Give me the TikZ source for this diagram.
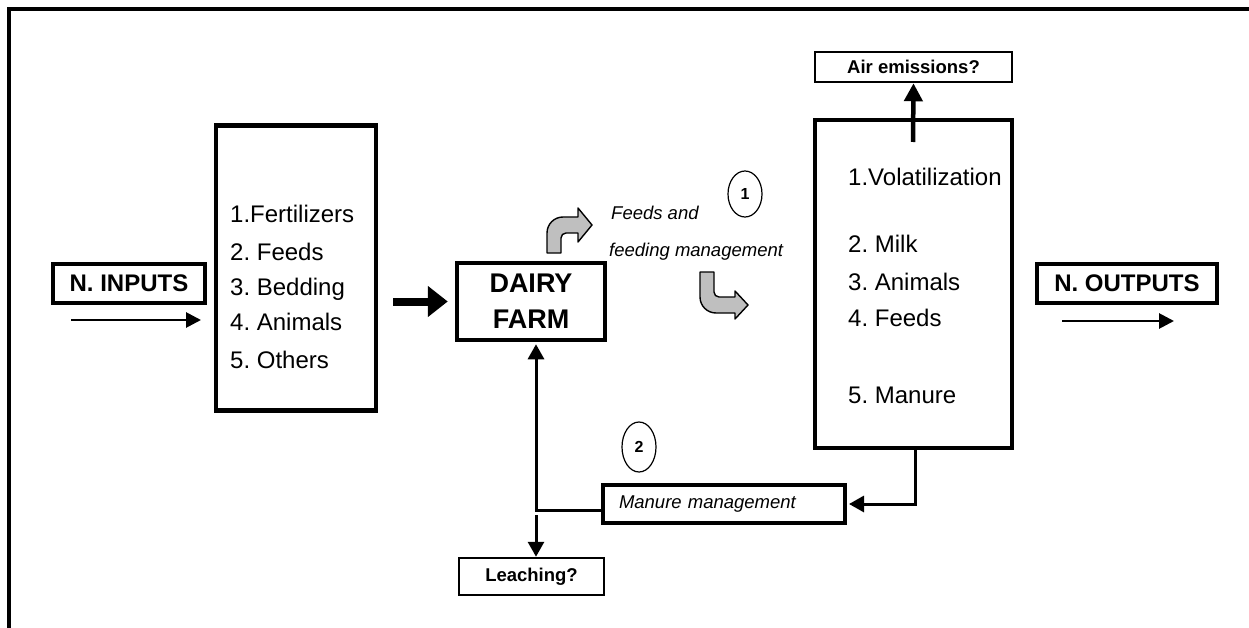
\documentclass[tikz,border=0pt]{standalone}
\usepackage{fontspec}
\setmainfont{Liberation Sans}
\usetikzlibrary{arrows.meta, positioning, shapes.geometric}
\frenchspacing

\begin{document}
\begin{tikzpicture}[x=1pt, y=-1pt,
    heavybox/.style={draw, line width=4.5pt, inner sep=0pt},
    lightbox/.style={draw, line width=2.5pt, inner sep=0pt},
    item/.style={anchor=base west, inner sep=0pt, font=\fontsize{24}{28}\selectfont},
    note/.style={font=\fontsize{18.5}{22}\selectfont\itshape},
    tag/.style={font=\fontsize{18.5}{22}\selectfont\bfseries},
    numcirc/.style={ellipse, draw, line width=1.2pt, minimum width=34pt, minimum height=46pt, inner sep=0pt, font=\fontsize{16}{18}\selectfont\bfseries},
    thinarrow/.style={line width=2.8pt, -{Triangle[length=15pt,width=15pt]}},
    loop/.style={line width=3pt, -{Triangle[length=15pt,width=16pt]}},
    bendarrow/.style={draw, line width=1.4pt, fill=gray!50, line join=round}]
\useasboundingbox (0,0) rectangle (1249,628);

% frame
\draw[line width=4pt] (8.5,628) -- (8.5,9) -- (1249,9);

% inputs
\node[heavybox, minimum width=152, minimum height=39, font=\fontsize{24}{28}\selectfont\bfseries] (nin) at (129,283.5) {N. INPUTS};
\coordinate (ina) at (71,320);
\coordinate (inb) at (201,320);
\draw[thinarrow] (ina) -- (inb);

\node[heavybox, minimum width=160, minimum height=285] (inlist) at (296,268) {};
\node[item] (in1) at (230,223) {1.Fertilizers};
\node[item] (in2) at (230,260) {2. Feeds};
\node[item] (in3) at (230,295) {3. Bedding};
\node[item] (in4) at (230,330) {4. Animals};
\node[item] (in5) at (230,368) {5. Others};

% farm
\node[heavybox, minimum width=148, minimum height=77, align=center, font=\fontsize{27}{36}\selectfont\bfseries] (dairy) at (531,301.5) {DAIRY\\FARM};
\coordinate (feedin) at (393,301.5);
\draw[line width=8pt, -{Triangle[length=20pt,width=30pt]}] (feedin) -- ([xshift=-7pt]dairy.west);

% feeding management
\draw[bendarrow] (547,253) [rounded corners=16pt] -- (547,217) [sharp corners] -- (578,217) -- (578,208) -- (592,225) -- (578,242) -- (578,233) [rounded corners=5pt] -- (561,233) [sharp corners] -- (561,253) -- cycle;
\draw[bendarrow] (700,272) [rounded corners=16pt] -- (700,313) [sharp corners] -- (735,313) -- (735,319) -- (748,305) -- (735,291) -- (735,297) [rounded corners=5pt] -- (714,297) [sharp corners] -- (714,272) -- cycle;
\node[note, anchor=base west, inner sep=0pt] (feedsa) at (611,220) {Feeds and};
\node[note, anchor=base west, inner sep=0pt] (feedsb) at (609,256) {feeding management};
\node[numcirc] (c1) at (745,194) {1};

% outputs
\node[heavybox, minimum width=197, minimum height=328] (outlist) at (913.5,284) {};
\node[item] (out1) at (848,186) {1.Volatilization};
\node[item] (out2) at (848,253) {2. Milk};
\node[item] (out3) at (848,290) {3. Animals};
\node[item] (out4) at (848,326) {4. Feeds};
\node[item] (out5) at (848,403) {5. Manure};

\node[lightbox, minimum width=197, minimum height=30, tag] (air) at (913.5,67) {Air emissions?};
\coordinate (volup) at (913,142);
\draw[line width=4.5pt, -{Triangle[length=18pt,width=18pt]}] (volup) -- (air.south);

\node[heavybox, minimum width=180, minimum height=39, font=\fontsize{24}{28}\selectfont\bfseries] (nout) at (1127,283.5) {N. OUTPUTS};
\coordinate (outa) at (1062,321);
\coordinate (outb) at (1174,321);
\draw[thinarrow] (outa) -- (outb);

% manure loop
\node[heavybox, line width=4pt, text width=210pt, align=left, inner xsep=16pt, minimum height=38, note] (manure) at (724,504) {Manure management};
\node[numcirc, minimum height=50pt] (c2) at (639,447) {2};
\coordinate (mdrop) at (915,448);
\draw[loop] (mdrop) |- ([xshift=2pt]manure.east);
\coordinate (split) at (536,510);
\draw[loop] (manure.west |- split) -- (split) -- ([yshift=-2pt]split |- dairy.south);

\node[lightbox, minimum width=145, minimum height=37, tag] (leach) at (531.5,576.5) {Leaching?};
\coordinate (split2) at (536,515);
\draw[loop] (split2) -- (split2 |- leach.north);
\end{tikzpicture}
\end{document}
